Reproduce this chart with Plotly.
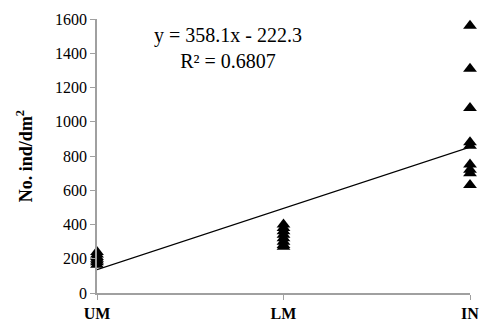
import plotly.graph_objects as go

categories = ["UM", "LM", "IN"]
um_values = [240, 225, 210, 200, 190, 180, 165]
lm_values = [400, 380, 360, 340, 320, 300, 280, 270]
in_values = [1560, 1310, 1080, 880, 860, 750, 720, 700, 630]
slope = 358.1
intercept = -222.3
r_squared = 0.6807
y_ticks = [0, 200, 400, 600, 800, 1000, 1200, 1400, 1600]

xs, ys = [], []
for i, vals in enumerate([um_values, lm_values, in_values]):
    xs += [i + 1] * len(vals)
    ys += vals

fig = go.Figure()
fig.add_trace(go.Scatter(x=xs, y=ys, mode="markers",
                         marker=dict(symbol="triangle-up", size=12, color="black"),
                         cliponaxis=False, showlegend=False))
line_x = [1, 3]
line_y = [slope * x + intercept for x in line_x]
fig.add_trace(go.Scatter(x=line_x, y=line_y, mode="lines",
                         line=dict(color="black", width=1.2), showlegend=False))

fig.add_annotation(x=0.35, y=0.99, xref="paper", yref="paper", xanchor="center", yanchor="top",
                   text=f"y = {slope}x - {abs(intercept)}<br>R² = {r_squared}",
                   showarrow=False, align="center",
                   font=dict(family="Liberation Serif", size=20, color="black"))

fig.update_layout(
    width=490, height=333,
    margin=dict(l=97, r=11, t=18, b=31),
    plot_bgcolor="white", paper_bgcolor="white",
    font=dict(family="Liberation Serif", color="black"),
    xaxis=dict(range=[1, 3], tickvals=[1, 2, 3], ticktext=[f"<b>{c}</b>" for c in categories],
               showline=True, linecolor="#a0a0a0", linewidth=1.5, ticks="outside",
               ticklen=5, tickcolor="#a0a0a0", showgrid=False, zeroline=False,
               ticklabeloverflow="allow",
               tickfont=dict(size=16, family="Liberation Serif")),
    yaxis=dict(range=[0, 1600], tickvals=y_ticks, showline=True, linecolor="#a0a0a0",
               linewidth=1.5, ticks="outside", ticklen=5, tickcolor="#a0a0a0",
               showgrid=False, zeroline=False,
               tickfont=dict(size=16, family="Liberation Serif"),
               title=dict(text="<b>No. ind/dm<sup>2</sup></b>", standoff=18,
                          font=dict(size=18, family="Liberation Serif"))),
)
fig.write_html("out.html")
